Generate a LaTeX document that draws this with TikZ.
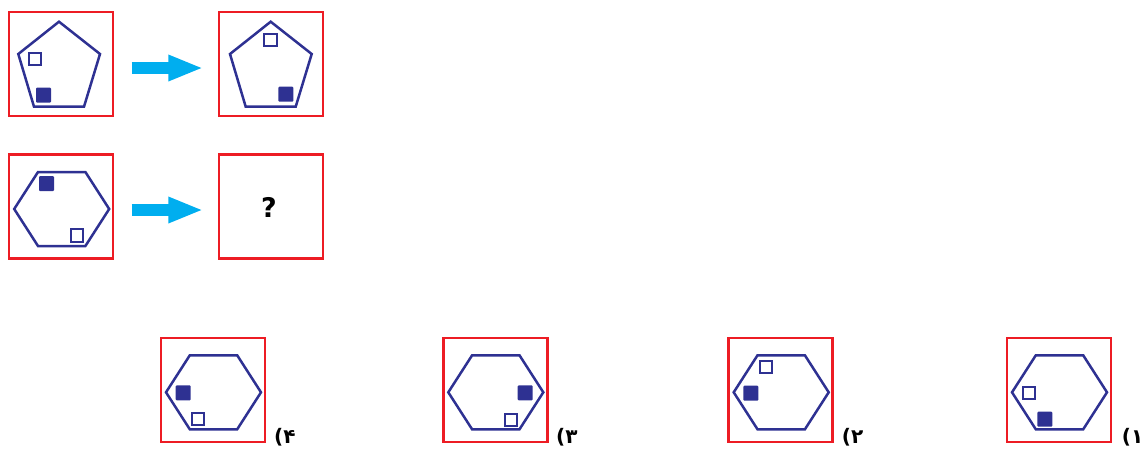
\documentclass[tikz,border=0pt]{standalone}
\usepackage{fontspec}
\newfontfamily\arabicfont[Script=Arabic]{DejaVu Sans}
\usetikzlibrary{arrows.meta}
\definecolor{framered}{HTML}{ED1C24}
\definecolor{shapeblue}{HTML}{2E3192}
\definecolor{arrowcyan}{HTML}{00AEEF}
% hexagon and pentagon drawn round a centre
\newcommand{\hexat}[1]{\draw[poly, shift={#1}] (-47.5,0) -- (-23.7,-37) -- (23.7,-37) -- (47.5,0) -- (23.7,37) -- (-23.7,37) -- cycle;}
\newcommand{\pentat}[1]{\draw[poly, shift={#1}] (0,-42.3) -- (41,-10) -- (25,42.7) -- (-25,42.7) -- (-40.7,-10) -- cycle;}

\begin{document}
\begin{tikzpicture}[x=1pt, y=-1pt]
    \tikzstyle{frame} = [shape=rectangle, draw=framered, line width=2.2pt, minimum size=104pt, inner sep=0pt]
    \tikzstyle{poly} = [draw=shapeblue, line width=2.5pt, line join=miter]
    \tikzstyle{sqe} = [shape=rectangle, draw=shapeblue, fill=white, line width=2pt, minimum size=12.3pt, inner sep=0pt]
    \tikzstyle{sqf} = [shape=rectangle, fill=shapeblue, rounded corners=1pt, minimum size=15pt, inner sep=0pt]
    \tikzstyle{bigarrow} = [draw=arrowcyan, line width=12.5pt, -{Triangle[length=35pt, width=24pt]}]
    \tikzstyle{choice} = [font=\arabicfont\bfseries\fontsize{20}{24}\selectfont, anchor=north west, inner sep=0pt]
    \useasboundingbox (0,0) rectangle (1145,448);

    % question frames
    \path   (61.2, 64.3) node [frame, name=f1] {}
            (270.6, 64.3) node [frame, name=f2] {}
            (61.2, 206.5) node [frame, name=f3] {}
            (270.6, 206.5) node [frame, name=f4] {};
    \node (qm) at (269, 207) {\arabicfont\bfseries\fontsize{27}{30}\selectfont ?};

    % answer frames
    \path   (212.7, 390) node [frame, name=o4] {}
            (495.5, 390) node [frame, name=o3] {}
            (780.5, 390.3) node [frame, name=o2] {}
            (1058.8, 390.3) node [frame, name=o1] {};

    \pentat{(59,64)}
    \pentat{(270.7,64)}
    \hexat{(61.7,209)}
    \hexat{(213.5,392.3)}
    \hexat{(495.8,392.3)}
    \hexat{(781.2,392.3)}
    \hexat{(1059.5,392.3)}

    % small squares
    \node (e1) [sqe] at (34.8, 59.2) {};
    \node (s1) [sqf] at (43.5, 95.2) {};
    \node (e2) [sqe] at (270.5, 39.7) {};
    \node (s2) [sqf] at (285.8, 94.2) {};
    \node (s3) [sqf] at (46.5, 183.5) {};
    \node (e3) [sqe] at (77, 235.5) {};
    \node (s4) [sqf] at (183.2, 392.8) {};
    \node (e4) [sqe] at (197.8, 418.8) {};
    \node (s5) [sqf] at (525.2, 392.8) {};
    \node (e5) [sqe] at (511.2, 419.7) {};
    \node (e6) [sqe] at (766.2, 367) {};
    \node (s6) [sqf] at (750.8, 393.2) {};
    \node (e7) [sqe] at (1029.2, 392.8) {};
    \node (s7) [sqf] at (1044.8, 419.2) {};

    % arrows
    \coordinate (a1) at (131.7, 68);
    \coordinate (b1) at (203.3, 68);
    \coordinate (a2) at (131.7, 210);
    \coordinate (b2) at (203.3, 210);
    \draw [bigarrow] (a1) -- (b1);
    \draw [bigarrow] (a2) -- (b2);

    % answer labels
    \node (l4) [choice] at (274, 428.3) {۴)};
    \node (l3) [choice] at (556, 428.3) {۳)};
    \node (l2) [choice] at (841.7, 428.3) {۲)};
    \node (l1) [choice] at (1121.7, 428.3) {۱)};
\end{tikzpicture}
\end{document}
